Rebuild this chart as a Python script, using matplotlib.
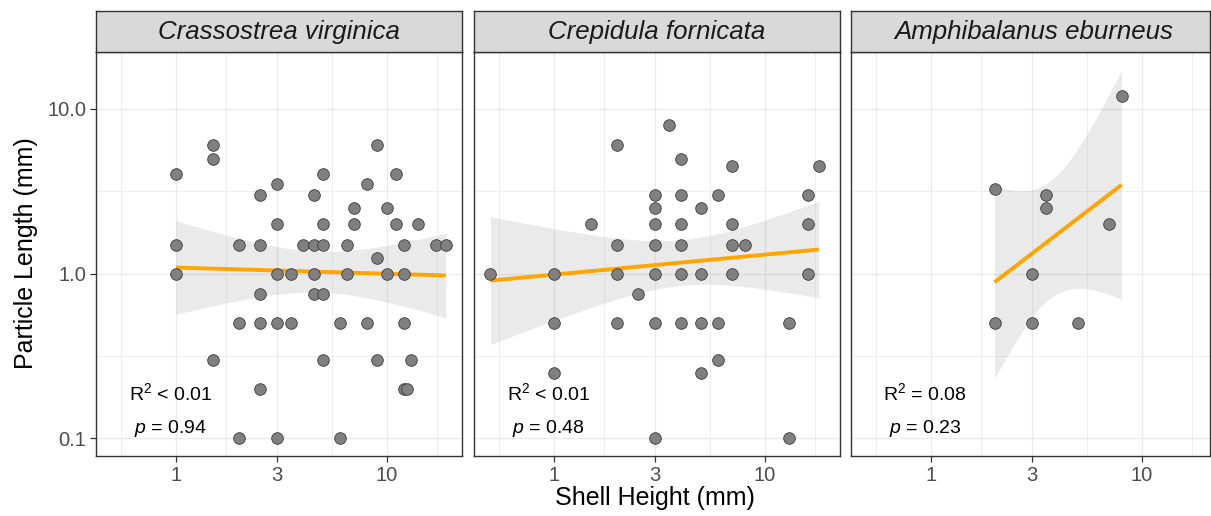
import matplotlib
matplotlib.use("Agg")
import matplotlib.pyplot as plt
from matplotlib.ticker import FixedLocator, NullFormatter
import numpy as np

plt.rcParams['font.family'] = ['Liberation Sans', 'DejaVu Sans']
plt.rcParams['mathtext.fontset'] = 'custom'
plt.rcParams['mathtext.rm'] = 'Liberation Sans'
plt.rcParams['mathtext.it'] = 'Liberation Sans:italic'

# --- data ---
species = ["Crassostrea virginica", "Crepidula fornicata", "Amphibalanus eburneus"]

cv_height = [1, 1, 1, 1.5, 1.5, 1.5, 2, 2, 2, 2.5, 2.5, 2.5, 2.5, 2.5, 3, 3, 3, 3, 3,
             3.5, 3.5, 4, 4.5, 4.5, 4.5, 4.5, 5, 5, 5, 5, 5, 6, 6, 6.5, 6.5, 7, 7, 8, 8,
             9, 9, 9, 10, 10, 11, 11, 12, 12, 12, 12, 12.5, 13, 14, 17, 19]
cv_length = [4, 1.5, 1, 6, 5, 0.3, 1.5, 0.5, 0.1, 3, 1.5, 0.75, 0.5, 0.2, 3.5, 2, 1, 0.5, 0.1,
             1, 0.5, 1.5, 3, 1.5, 1, 0.75, 4, 2, 1.5, 0.75, 0.3, 0.5, 0.1, 1.5, 1, 2.5, 2, 3.5, 0.5,
             6, 1.25, 0.3, 2.5, 1, 4, 2, 1.5, 1, 0.5, 0.2, 0.2, 0.3, 2, 1.5, 1.5]

cf_height = [0.5, 1, 1, 1, 1.5, 2, 2, 2, 2, 2.5, 3, 3, 3, 3, 3, 3, 3, 3.5, 4, 4, 4, 4, 4, 4,
             5, 5, 5, 5, 6, 6, 6, 7, 7, 7, 7, 8, 13, 13, 16, 16, 16, 18]
cf_length = [1, 1, 0.5, 0.25, 2, 6, 1.5, 1, 0.5, 0.75, 3, 2.5, 2, 1.5, 1, 0.5, 0.1, 8, 5, 3, 2, 1.5, 1, 0.5,
             2.5, 1, 0.5, 0.25, 3, 0.5, 0.3, 4.5, 2, 1.5, 1, 1.5, 0.5, 0.1, 3, 2, 1, 4.5]

ae_height = [2, 2, 3, 3, 3.5, 3.5, 5, 7, 8]
ae_length = [3.25, 0.5, 1, 0.5, 3, 2.5, 0.5, 2, 12]

r2_labels = [r"R$^2$ < 0.01", r"R$^2$ < 0.01", r"R$^2$ = 0.08"]
p_labels = [r"$\it{p}$ = 0.94", r"$\it{p}$ = 0.48", r"$\it{p}$ = 0.23"]

x_ticks = [1, 3, 10]
x_ticklabels = ["1", "3", "10"]
y_ticks = [0.1, 1, 10]
y_ticklabels = ["0.1", "1.0", "10.0"]


def t_quantile(df, z=1.959964):
    # Cornish-Fisher expansion for the 97.5% t quantile
    return (z + (z**3 + z) / (4 * df) + (5 * z**5 + 16 * z**3 + 3 * z) / (96 * df**2)
            + (3 * z**7 + 19 * z**5 + 17 * z**3 - 15 * z) / (384 * df**3))


def smooth(x, y, n=80):
    lx, ly = np.log10(x), np.log10(y)
    slope, icpt = np.polyfit(lx, ly, 1)
    resid = ly - (icpt + slope * lx)
    dof = len(lx) - 2
    s = np.sqrt(np.sum(resid**2) / dof)
    gx = np.linspace(lx.min(), lx.max(), n)
    fit = icpt + slope * gx
    se = s * np.sqrt(1 / len(lx) + (gx - lx.mean())**2 / np.sum((lx - lx.mean())**2))
    t = t_quantile(dof)
    return 10**gx, 10**fit, 10**(fit - t * se), 10**(fit + t * se)


W, H = 1211, 516
fig = plt.figure(figsize=(W / 100, H / 100), dpi=100)

panel_left = [96, 474, 851]
panel_width = [366, 366, 359]
panel_top, panel_bottom = 52, 456
strip_top = 11
xlims = [(0.4178, 22.68), (0.4178, 22.68), (0.4178, 21.0)]
ylim = (0.0778, 22.2)

datasets = [(cv_height, cv_length), (cf_height, cf_length), (ae_height, ae_length)]

for i, (xs, ys) in enumerate(datasets):
    xs = np.array(xs, dtype=float)
    ys = np.array(ys, dtype=float)
    ax = fig.add_axes([panel_left[i] / W, (H - panel_bottom) / H,
                       panel_width[i] / W, (panel_bottom - panel_top) / H])
    ax.set_xscale('log')
    ax.set_yscale('log')
    ax.set_xlim(*xlims[i])
    ax.set_ylim(*ylim)

    gx, fit, lo, hi = smooth(xs, ys)
    ax.fill_between(gx, lo, hi, color='#999999', alpha=0.2, linewidth=0, zorder=2)
    ax.plot(gx, fit, color='#FFA500', linewidth=2.8, zorder=3, solid_capstyle='butt')
    ax.scatter(xs, ys, s=70, facecolor='#808080', edgecolor='#3a3a3a', linewidth=0.6, zorder=4)

    ax.text(0.94, 0.187, r2_labels[i], ha='center', va='center', fontsize=14, zorder=5)
    ax.text(0.94, 0.114, p_labels[i], ha='center', va='center', fontsize=14, zorder=5)

    ax.xaxis.set_major_locator(FixedLocator(x_ticks))
    ax.xaxis.set_minor_locator(FixedLocator(np.sqrt(np.array([0.3, 1, 3, 10]) * np.array([1, 3, 10, 30]))))
    ax.yaxis.set_major_locator(FixedLocator(y_ticks))
    ax.yaxis.set_minor_locator(FixedLocator([10**-0.5, 10**0.5]))
    ax.set_xticklabels(x_ticklabels)
    ax.xaxis.set_minor_formatter(NullFormatter())
    ax.yaxis.set_minor_formatter(NullFormatter())
    if i == 0:
        ax.set_yticklabels(y_ticklabels)
        ax.tick_params(axis='y', which='major', length=4, width=0.9, color='#333333',
                       labelcolor='#4D4D4D', labelsize=14.5, pad=3)
    else:
        ax.tick_params(axis='y', which='major', length=0, labelleft=False)
    ax.tick_params(axis='x', which='major', length=4, width=0.9, color='#333333',
                   labelcolor='#4D4D4D', labelsize=14.5, pad=3)
    ax.tick_params(which='minor', length=0)

    ax.grid(True, which='major', color='#EBEBEB', linewidth=1.0, zorder=0)
    ax.grid(True, which='minor', color='#EBEBEB', linewidth=0.6, zorder=0)
    ax.set_axisbelow(True)
    for sp in ax.spines.values():
        sp.set_color('#333333')
        sp.set_linewidth(1.0)

    # facet strip
    sax = fig.add_axes([panel_left[i] / W, (H - panel_top) / H,
                        panel_width[i] / W, (panel_top - strip_top) / H])
    sax.set_facecolor('#D9D9D9')
    sax.set_xticks([])
    sax.set_yticks([])
    for sp in sax.spines.values():
        sp.set_color('#333333')
        sp.set_linewidth(1.0)
    sax.text(0.5 * 366 / panel_width[i], 0.5, species[i], transform=sax.transAxes,
             ha='center', va='center', fontsize=18.6, style='italic', color='#1A1A1A')

fig.text(26 / W, 1 - 253 / H, "Particle Length (mm)", rotation=90, ha='center', va='center', fontsize=18)
fig.text(655 / W, 1 - 498 / H, "Shell Height (mm)", ha='center', va='center', fontsize=18)

fig.savefig("out.png", dpi=100)
